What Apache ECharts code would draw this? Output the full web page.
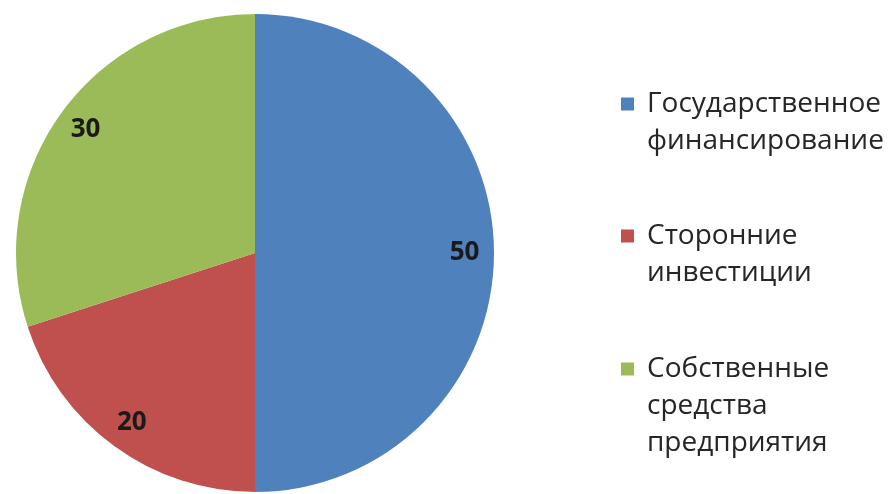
<!DOCTYPE html>
<html>
<head>
<meta charset="utf-8">
<script src="https://cdn.jsdelivr.net/npm/echarts@6/dist/echarts.min.js"></script>
<style>
html,body{margin:0;padding:0;background:#fff;}
#c{width:888px;height:494px;}
</style>
</head>
<body>
<div id="c"></div>
<script>
const categories = ['Государственное\nфинансирование', 'Сторонние\nинвестиции', 'Собственные\nсредства\nпредприятия'];
const values = [50, 20, 30];
const colors = ['#4F81BD', '#C0504D', '#9BBB59'];

const font = '"Open Sans", "Noto Sans", sans-serif';
const LH = 37;
const data = categories.map((n, i) => ({ name: n, value: values[i], itemStyle: { color: colors[i] } }));

const firstLineY = [99, 231, 364];
const legends = categories.map((n, i) => {
  const lines = n.split('\n').length;
  return {
    data: [n],
    orient: 'vertical',
    left: 616,
    top: firstLineY[i] - LH / 2 - (lines - 1) * LH,
    itemWidth: 13,
    itemHeight: 13,
    itemGap: 0,
    icon: 'rect',
    selectedMode: false,
    formatter: function (name) { return '\n'.repeat(lines - 1) + name; },
    textStyle: {
      fontFamily: font,
      fontSize: 28,
      color: '#262626',
      lineHeight: LH,
      padding: [0, 0, 0, 8]
    }
  };
});

const option = {
  animation: false,
  backgroundColor: '#fff',
  legend: legends,
  series: [
    {
      type: 'pie',
      center: [255, 253],
      radius: [0, 239],
      startAngle: 90,
      clockwise: true,
      label: { show: false },
      labelLine: { show: false },
      silent: true,
      data: data
    },
    {
      type: 'pie',
      center: [255, 253],
      radius: [174, 239],
      startAngle: 90,
      clockwise: true,
      silent: true,
      legendHoverLink: false,
      label: {
        show: true,
        position: 'inside',
        formatter: '{c}',
        fontFamily: font,
        fontWeight: 'bold',
        fontSize: 26,
        color: '#1a1a1a'
      },
      labelLine: { show: false },
      data: categories.map((n, i) => ({ name: n, value: values[i], itemStyle: { color: 'rgba(0,0,0,0)' } }))
    }
  ]
};
const chart = echarts.init(document.getElementById('c'));
chart.setOption(option);
</script>
</body>
</html>
